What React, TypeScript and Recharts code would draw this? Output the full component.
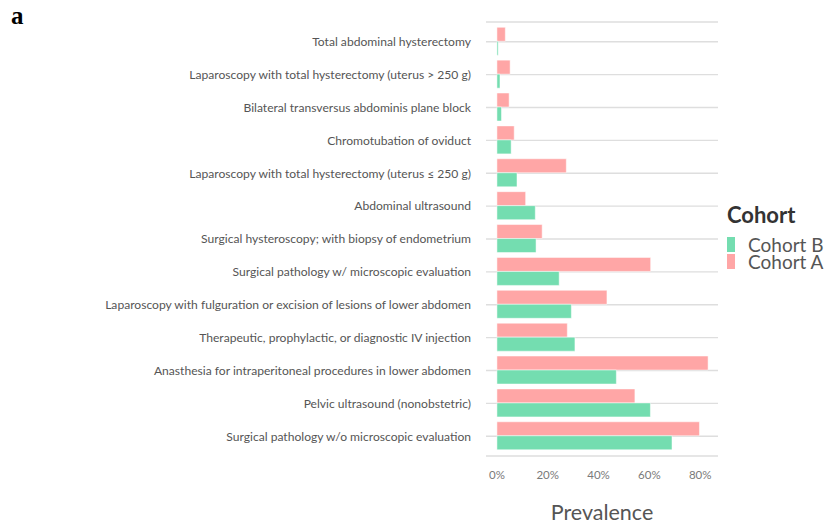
import React from "react";
import { BarChart, Bar, XAxis, YAxis, CartesianGrid } from "recharts";

const procedures = [
  "Total abdominal hysterectomy",
  "Laparoscopy with total hysterectomy (uterus > 250 g)",
  "Bilateral transversus abdominis plane block",
  "Chromotubation of oviduct",
  "Laparoscopy with total hysterectomy (uterus \u2264 250 g)",
  "Abdominal ultrasound",
  "Surgical hysteroscopy; with biopsy of endometrium",
  "Surgical pathology w/ microscopic evaluation",
  "Laparoscopy with fulguration or excision of lesions of lower abdomen",
  "Therapeutic, prophylactic, or diagnostic IV injection",
  "Anasthesia for intraperitoneal procedures in lower abdomen",
  "Pelvic ultrasound (nonobstetric)",
  "Surgical pathology w/o microscopic evaluation",
];

const cohortA = [3.3, 5.2, 4.8, 6.8, 27.3, 11.3, 17.8, 60.5, 43.3, 27.7, 83.1, 54.3, 79.7];
const cohortB = [0.5, 1.2, 1.8, 5.6, 7.9, 15.1, 15.4, 24.5, 29.3, 30.7, 47.0, 60.4, 68.9];

const xTicks = [0, 20, 40, 60, 80];

const PINK = "#ffa6a6";
const GREEN = "#74ddb0";
const FONT = "Lato, 'Open Sans', sans-serif";

const data = procedures.map((name, i) => ({
  name,
  A: cohortA[i],
  B: cohortB[i],
}));

const legendItems = [
  { label: "Cohort B", color: GREEN },
  { label: "Cohort A", color: PINK },
];

export default function App() {
  return (
    <div
      style={{
        position: "absolute",
        left: 0,
        top: 0,
        width: 827,
        height: 526,
        background: "#fff",
        fontFamily: FONT,
      }}
    >
      <div
        style={{
          position: "absolute",
          left: 11,
          top: 2,
          fontFamily: "'Liberation Serif', serif",
          fontWeight: 700,
          fontSize: 25,
          color: "#000",
        }}
      >
        a
      </div>

      <BarChart
        width={827}
        height={526}
        data={data}
        layout="vertical"
        margin={{ top: 22, right: 109, bottom: 30, left: 0 }}
        barCategoryGap="6%"
        barGap={0}
        style={{ position: "absolute", left: 0, top: 0 }}
      >
        <CartesianGrid horizontal vertical={false} stroke="#dedede" strokeWidth={1.3} />
        <XAxis
          type="number"
          domain={[-4.3, 87]}
          ticks={xTicks}
          tickFormatter={(v) => `${v}%`}
          axisLine={false}
          tickLine={false}
          tickSize={0}
          tickMargin={15}
          height={40}
          tick={{ fill: "#7a7a7a", fontSize: 11.5, fontFamily: FONT }}
          label={{
            value: "Prevalence",
            position: "bottom",
            offset: 9,
            fill: "#555",
            fontSize: 21.5,
            fontFamily: FONT,
          }}
        />
        <YAxis
          type="category"
          dataKey="name"
          width={486}
          axisLine={false}
          tickLine={false}
          tickSize={0}
          tickMargin={15}
          interval={0}
          padding={{ top: 3.3, bottom: 3.3 }}
          tick={{ fill: "#555", fontSize: 12.1, fontFamily: FONT }}
        />
        <Bar dataKey="A" fill={PINK} stroke="#fff" strokeWidth={0.5} isAnimationActive={false} />
        <Bar dataKey="B" fill={GREEN} stroke="#fff" strokeWidth={0.5} isAnimationActive={false} />
      </BarChart>

      <div style={{ position: "absolute", left: 727, top: 203 }}>
        <div style={{ fontWeight: 700, fontSize: 22, color: "#333", lineHeight: "24px", marginBottom: 9 }}>
          Cohort
        </div>
        {legendItems.map((it) => (
          <div key={it.label} style={{ display: "flex", alignItems: "center", height: 17 }}>
            <div style={{ width: 8, height: 15, background: it.color, marginRight: 13 }} />
            <span
              style={{
                display: "block",
                height: 17,
                fontSize: 19,
                color: "#555",
                lineHeight: "17px",
                whiteSpace: "nowrap",
              }}
            >
              {it.label}
            </span>
          </div>
        ))}
      </div>
    </div>
  );
}
